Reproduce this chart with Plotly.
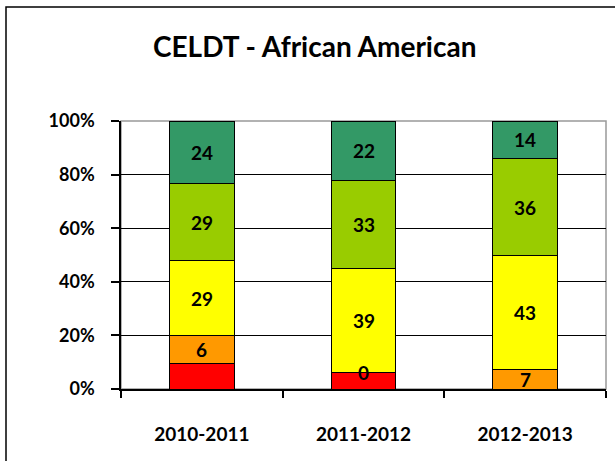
import plotly.graph_objects as go

years = ["2010-2011", "2011-2012", "2012-2013"]
red = [9.6, 6.1, 0.0]
orange = [10.4, 0.0, 7.1]
yellow = [27.9, 38.7, 42.6]
light_green = [28.6, 32.9, 36.4]
dark_green = [23.5, 22.3, 13.9]

red_labels = ["", "", ""]
orange_labels = ["6", "0", "7"]
yellow_labels = ["29", "39", "43"]
light_green_labels = ["29", "33", "36"]
dark_green_labels = ["24", "22", "14"]

y_ticks = [0, 20, 40, 60, 80, 100]
y_tick_text = ["0%", "20%", "40%", "60%", "80%", "100%"]

FONT = "Lato"
series = [
    ("Red", red, red_labels, "#FF0000"),
    ("Orange", orange, orange_labels, "#FF9900"),
    ("Yellow", yellow, yellow_labels, "#FFFF00"),
    ("Light green", light_green, light_green_labels, "#99CC00"),
    ("Dark green", dark_green, dark_green_labels, "#339966"),
]

fig = go.Figure()
base = [0.0] * len(years)
annotations = []
for name, vals, labels, color in series:
    fig.add_trace(go.Bar(
        x=years, y=vals, name=name, marker=dict(color=color, line=dict(color="#000000", width=1)),
        width=0.4, hoverinfo="skip",
    ))
    for i, (v, lab) in enumerate(zip(vals, labels)):
        if lab:
            annotations.append(dict(
                x=years[i], y=base[i] + v / 2, xref="x", yref="y", text=f"<b>{lab}</b>",
                showarrow=False, font=dict(family=FONT, size=19, color="#000000"),
            ))
    base = [b + v for b, v in zip(base, vals)]

annotations.append(dict(
    x=(314 - 121) / 485, y=(389 - 46) / 268, xref="paper", yref="paper",
    text="<b>CELDT - African American</b>",
    showarrow=False, font=dict(family=FONT, size=28, color="#000000"),
    xanchor="center", yanchor="middle",
))

fig.update_layout(
    width=615, height=461,
    margin=dict(l=121, r=9, t=121, b=72),
    barmode="stack",
    showlegend=False,
    plot_bgcolor="#FFFFFF",
    paper_bgcolor="#FFFFFF",
    annotations=annotations,
    shapes=[
        dict(type="rect", xref="paper", yref="paper", x0=0, x1=1, y0=0, y1=1,
             line=dict(color="#999999", width=1.5), layer="below"),
        dict(type="rect", xref="paper", yref="paper", x0=(6 - 121) / 485, x1=1.1,
             y0=-0.35, y1=(389 - 7) / 268, line=dict(color="#000000", width=1.5)),
    ],
)

fig.update_xaxes(
    showline=True, linecolor="#000000", linewidth=1.5,
    ticks="outside", ticklen=7, tickcolor="#000000", tickwidth=1.5, tickson="boundaries",
    tickfont=dict(family=FONT, size=19, color="#000000"),
    tickprefix="<b>", ticksuffix="</b>", ticklabelstandoff=27,
    showgrid=False, zeroline=False,
)
fig.update_yaxes(
    range=[0, 100], tickvals=y_ticks, ticktext=[f"<b>{t}</b>" for t in y_tick_text],
    showline=True, linecolor="#000000", linewidth=1.5,
    ticks="outside", ticklen=8, tickcolor="#000000", tickwidth=1.5,
    tickfont=dict(family=FONT, size=18, color="#000000"), ticklabelstandoff=13,
    showgrid=True, gridcolor="#000000", gridwidth=1, zeroline=False,
)

fig.write_html("out.html", config={"displayModeBar": False},
               post_script="document.body.style.margin='0';")
